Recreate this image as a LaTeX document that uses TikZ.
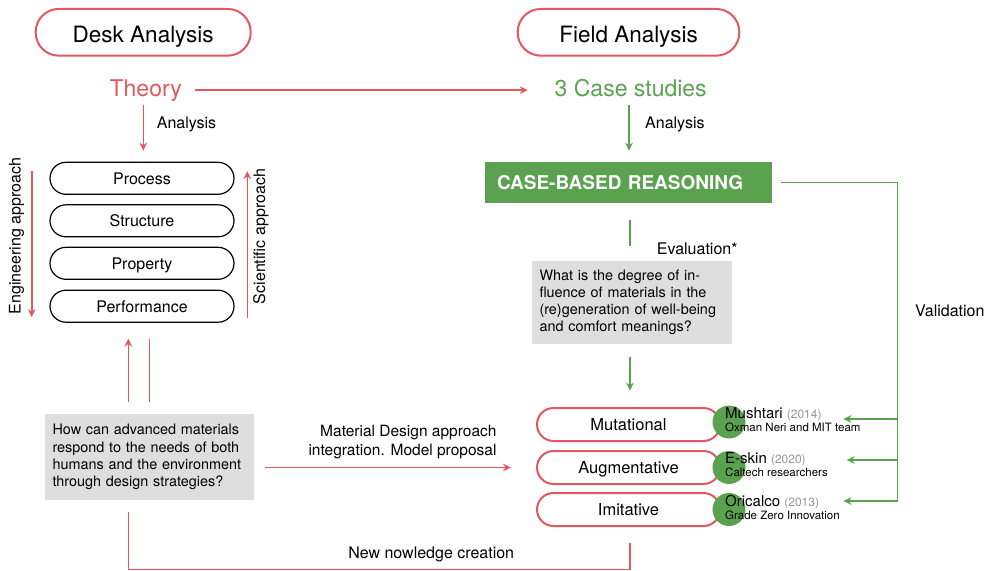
\documentclass[tikz,border=0pt]{standalone}
\usepackage{fontspec}
\setmainfont{TeX Gyre Heros}
\usetikzlibrary{arrows.meta,calc}

\definecolor{accentred}{RGB}{226,88,94}
\definecolor{accentgreen}{RGB}{90,162,80}
\definecolor{boxgray}{RGB}{222,222,222}
\definecolor{yeargray}{RGB}{150,150,150}
\newcommand\setfs[2]{\fontsize{#1}{#2}\selectfont}

\begin{document}
\begin{tikzpicture}[x=1pt,y=-1pt,
  headpill/.style={draw=accentred, line width=2pt, rounded corners=23pt,
    minimum height=46.7pt, inner sep=0pt, text height=20.8pt, text depth=0pt,
    font=\setfs{22.5pt}{27pt}},
  stagepill/.style={draw=black, line width=1.2pt, rounded corners=16pt,
    minimum width=184pt, minimum height=32pt, inner sep=0pt,
    text height=12pt, text depth=0pt, font=\setfs{16pt}{19pt}},
  strategypill/.style={draw=accentred, line width=2pt, rounded corners=16.5pt,
    minimum width=183pt, minimum height=33pt, inner sep=0pt,
    text height=11pt, text depth=0pt, font=\setfs{16.5pt}{19pt}},
  qbox/.style={fill=boxgray, inner xsep=7.5pt, inner ysep=0pt, align=left,
    font=\setfs{14.4pt}{17.3pt}},
  dot/.style={circle, fill=accentgreen, minimum size=33pt, inner sep=0pt},
  plain/.style={inner sep=0pt, font=\setfs{16pt}{19pt}},
  bigword/.style={inner sep=0pt, font=\setfs{23pt}{27pt}},
  redarr/.style={draw=accentred, line width=1.6pt, -{Stealth[length=8pt,width=7.5pt]}},
  redline/.style={draw=accentred, line width=1.4pt},
  greenarr/.style={draw=accentgreen, line width=1.8pt, -{Stealth[length=8pt,width=7.5pt]}},
  greenline/.style={draw=accentgreen, line width=1.3pt},
  casetitle/.style={anchor=base west, inner sep=0pt, font=\setfs{15pt}{18pt}},
  caseteam/.style={anchor=base west, inner sep=0pt, font=\setfs{11.5pt}{14pt}}
]
\useasboundingbox (0,0) rectangle (995,570);

% headers
\node[headpill, minimum width=215pt] (desk) at (143.2,32.3) {Desk Analysis};
\node[headpill, minimum width=221.6pt] (field) at (628.5,32.3) {Field Analysis};

\node[bigword, text=accentred, anchor=base] (theory) at (145.7,96) {Theory};
\node[bigword, text=accentgreen, anchor=base] (cases) at (630.7,96) {3 Case studies};
\draw[redarr, shorten <=12.7pt, shorten >=26.7pt] (theory.east) -- (theory.east -| cases.west);

% desk analysis column
\node[stagepill] (process) at (142,178.3) {Process};
\node[stagepill] (structure) at (142,220.8) {Structure};
\node[stagepill] (property) at (142,263.3) {Property};
\node[stagepill] (performance) at (142,306.2) {Performance};

\draw[redarr] ($(theory.base)+(-2.4,9)$) -- ++(0,45.7);
\node[plain, anchor=base west] (deskanalysis) at (156.7,128.3) {Analysis};

\draw[redarr] ($(process.north west)+(-17.7,9.4)$) -- ($(performance.south west)+(-17.7,-5.6)$);
\draw[redarr] ($(performance.south east)+(12.7,-4.5)$) -- ($(process.north east)+(12.7,9.4)$);
\node[plain, rotate=90] (eng) at (16.5,236) {Engineering approach};
\node[plain, rotate=90] (sci) at (261,236.5) {Scientific approach};

\node[qbox, text width=194pt, minimum width=209pt, minimum height=86pt] (question) at (149.5,457)
  {How can advanced materials\\respond to the needs of both\\humans and the environment\\through design strategies?};

\draw[redarr] ($(question.north)+(-21.2,-12.3)$) -- ($(performance.south)+(-13.7,15.8)$);
\draw[redline] ($(performance.south)+(7.3,15.8)$) -- ($(question.north)+(-0.2,-12.3)$);

% field analysis column
\node[fill=accentgreen, text=white, font=\bfseries\setfs{19pt}{22pt}, minimum width=287pt,
  minimum height=40.4pt, text width=263pt, inner xsep=12pt, inner ysep=0pt, align=left]
  (cbr) at (628.5,182.5) {CASE-BASED REASONING};
\draw[greenarr] ($(cases.base)+(-1.7,9)$) -- ++(0,45.7);
\node[plain, anchor=base west] (fieldanalysis) at (645,128.3) {Analysis};

\node[qbox, text width=185pt, minimum width=200pt, minimum height=83.3pt] (question2) at (632,302.3)
  {What is the degree of in-\\fluence of materials in the\\(re)generation of well-being\\and comfort meanings?};
\draw[greenline, line width=1.8pt] ($(cbr.south)+(1.5,17.5)$) -- ($(question2.north)+(-2,-14)$);
\node[plain, anchor=base west] (evaluation) at (656.7,254) {Evaluation*};

\node[strategypill] (mutational) at (628.5,424.5) {Mutational};
\node[strategypill] (augment) at (628.5,467.5) {Augmentative};
\node[strategypill] (imitative) at (628.5,509.5) {Imitative};
\draw[greenarr] ($(question2.south)+(-2,13)$) -- ($(mutational.north)+(1.5,-16.3)$);

\node[dot] (c1) at (729,422) {};
\node[dot] (c2) at (729,467.5) {};
\node[dot] (c3) at (729,509.5) {};

\node[casetitle] (mush) at (725,418) {Mushtari \textcolor{yeargray}{\setfs{12pt}{14pt}(2014)}};
\node[caseteam] (mushteam) at (725,431) {Oxman Neri and MIT team};
\node[casetitle] (eskin) at (725,463.3) {E-skin \textcolor{yeargray}{\setfs{12pt}{14pt}(2020)}};
\node[caseteam] (eskinteam) at (725,476.7) {Caltech researchers};
\node[casetitle] (oricalco) at (725,506) {Oricalco \textcolor{yeargray}{\setfs{12pt}{14pt}(2013)}};
\node[caseteam] (oricalcoteam) at (725,519.3) {Grade Zero Innovation};

% validation feedback
\coordinate (bus) at (897.3,0);
\coordinate (t1) at (843.3,419);
\coordinate (t2) at (846.7,460);
\coordinate (t3) at (843.3,501);
\draw[greenline, -{Stealth[length=8pt,width=7.5pt]}] ($(cbr.east)+(8.5,0)$) -| (bus |- t3) -- (t3);
\draw[greenline, line width=2pt, -{Stealth[length=8pt,width=7.5pt]}] (bus |- t1) -- (t1);
\draw[greenline, -{Stealth[length=8pt,width=7.5pt]}] (bus |- t2) -- (t2);
\node[plain, anchor=base west] (validation) at (915,316) {Validation};

% model proposal and new knowledge
\draw[redarr, shorten <=11pt, shorten >=25pt] (question.east |- augment.west) -- (augment.west);
\node[inner sep=0pt, align=right, anchor=east, font=\setfs{15.5pt}{18.3pt}] (proposal) at (496.7,441.9)
  {Material Design approach\\integration. Model proposal};

\draw[redline] ($(question.south)+(-21.2,11.7)$) |- ($(imitative.south)+(1.5,42.3)$) -- ($(imitative.south)+(1.5,16)$);
\node[plain, anchor=base east] (newknowledge) at (514.3,558) {New nowledge creation};
\end{tikzpicture}
\end{document}
